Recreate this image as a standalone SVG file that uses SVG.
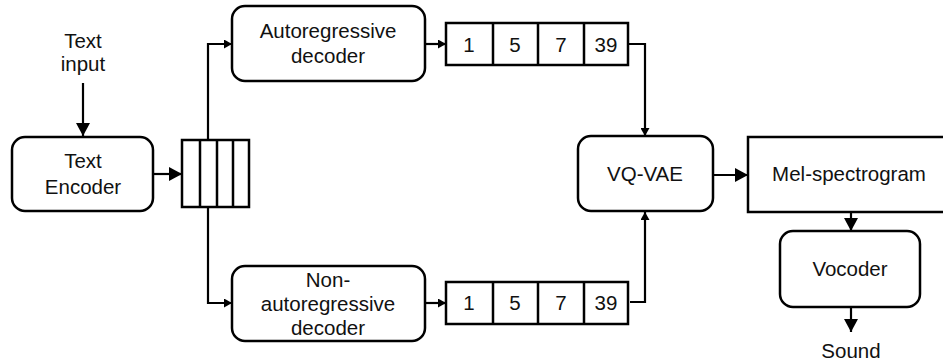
<svg xmlns="http://www.w3.org/2000/svg" width="943" height="364" viewBox="0 0 943 364">
<style>
.box{fill:#fff;stroke:#000;stroke-width:2.5}
.cell{fill:none;stroke:#000;stroke-width:2.5}
.t{font-family:"Liberation Sans",Arial,sans-serif;font-size:20.5px;fill:#111;text-anchor:middle}
.c{fill:none;stroke:#000;stroke-width:2.2}
</style>
<defs>
<marker id="big" markerUnits="userSpaceOnUse" markerWidth="14" markerHeight="14" refX="13" refY="7" orient="auto"><path d="M0,0 L13,7 L0,14 Z" fill="#000"/></marker>
<marker id="small" markerUnits="userSpaceOnUse" markerWidth="9" markerHeight="9" refX="8" refY="4.5" orient="auto"><path d="M0,0 L8,4.5 L0,9 Z" fill="#000"/></marker>
</defs>
<rect width="943" height="364" fill="#fff"/>
<g id="connectors">
<path class="c" d="M83,83 V136" marker-end="url(#big)"/>
<path class="c" d="M154,174 H182" marker-end="url(#big)"/>
<path class="c" d="M208,140 V44 H232" marker-end="url(#small)"/>
<path class="c" d="M208,207 V303 H232" marker-end="url(#small)"/>
<path class="c" d="M425,44 H446" marker-end="url(#small)"/>
<path class="c" d="M425,303 H446" marker-end="url(#small)"/>
<path class="c" d="M628,44 H645 V136" marker-end="url(#small)"/>
<path class="c" d="M630,302 H645 V212" marker-end="url(#small)"/>
<path class="c" d="M713,175 H748" marker-end="url(#big)"/>
<path class="c" d="M851,212 V231" marker-end="url(#big)"/>
<path class="c" d="M851,307 V332" marker-end="url(#big)"/>
</g>
<g id="text-input"><text class="t" x="83" y="48">Text</text><text class="t" x="83" y="71">input</text></g>
<g id="text-encoder"><rect class="box" x="12" y="137" width="141" height="74" rx="13"/><text class="t" x="83" y="168">Text</text><text class="t" x="83" y="194">Encoder</text></g>
<g id="embedding-stack"><rect class="cell" x="182" y="140" width="67" height="67"/><path class="cell" d="M200,140V207M217,140V207M233,140V207"/></g>
<g id="ar-decoder"><rect class="box" x="232" y="6" width="193" height="75" rx="13"/><text class="t" x="328" y="38">Autoregressive</text><text class="t" x="328" y="63">decoder</text></g>
<g id="nar-decoder"><rect class="box" x="232" y="266" width="193" height="75" rx="13"/><text class="t" x="328" y="287">Non-</text><text class="t" x="328" y="311">autoregressive</text><text class="t" x="328" y="335">decoder</text></g>
<g id="ar-tokens"><rect class="cell" x="446" y="23" width="182" height="42"/><path class="cell" d="M493,23V65M538,23V65M584,23V65"/><text class="t" x="469" y="52">1</text><text class="t" x="515" y="52">5</text><text class="t" x="561" y="52">7</text><text class="t" x="606" y="52">39</text></g>
<g id="nar-tokens"><rect class="cell" x="446" y="282" width="182" height="42"/><path class="cell" d="M493,282V324M538,282V324M584,282V324"/><text class="t" x="469" y="310">1</text><text class="t" x="515" y="310">5</text><text class="t" x="561" y="310">7</text><text class="t" x="606" y="310">39</text></g>
<g id="vq-vae"><rect class="box" x="578" y="136" width="135" height="75" rx="13"/><text class="t" x="645" y="181">VQ-VAE</text></g>
<g id="mel"><rect class="box" x="748" y="137" width="200" height="75"/><text class="t" x="849" y="181">Mel-spectrogram</text></g>
<g id="vocoder"><rect class="box" x="780" y="231" width="140" height="76" rx="13"/><text class="t" x="850" y="276">Vocoder</text></g>
<g id="sound"><text class="t" x="851" y="358">Sound</text></g>
</svg>
